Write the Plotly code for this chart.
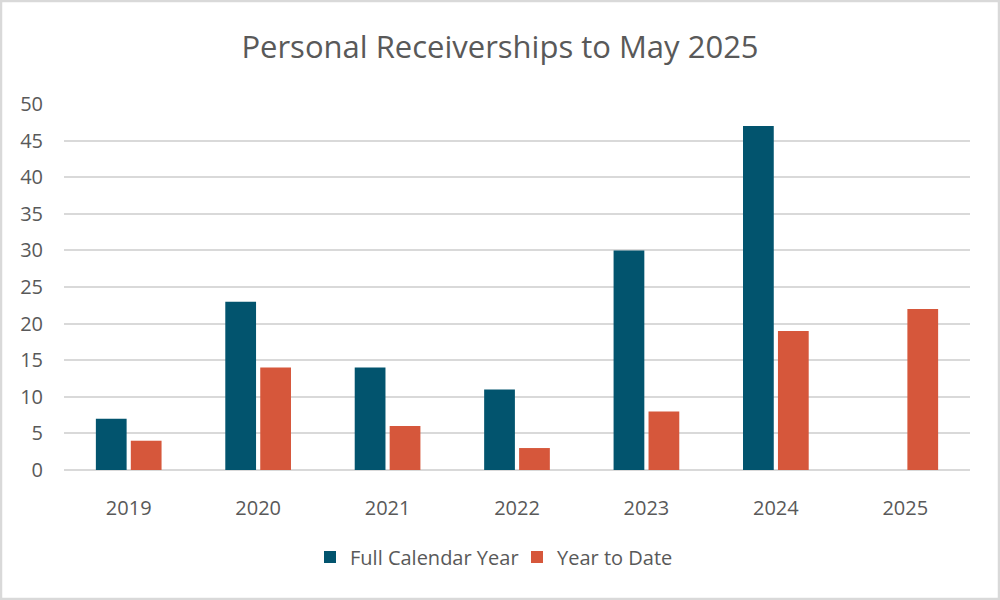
import plotly.graph_objects as go

years = ["2019", "2020", "2021", "2022", "2023", "2024", "2025"]
full_year = [7, 23, 14, 11, 30, 47, None]
year_to_date = [4, 14, 6, 3, 8, 19, 22]

font_family = "Open Sans, Noto Sans, DejaVu Sans, sans-serif"
text_color = "#595959"

fig = go.Figure()
fig.add_trace(go.Bar(x=years, y=full_year, name="Full Calendar Year",
                     marker=dict(color="#02546E", line=dict(width=0))))
fig.add_trace(go.Bar(x=years, y=year_to_date, name="Year to Date",
                     marker=dict(color="#D6573B", line=dict(width=0))))

L, R, T, B = 64, 30, 104, 130
W, H = 1000, 600
pw, ph = W - L - R, H - T - B

fig.update_layout(
    width=W, height=H,
    margin=dict(l=L, r=R, t=T, b=B),
    paper_bgcolor="white", plot_bgcolor="white",
    barmode="group", bargap=0.46, bargroupgap=0.12,
    title=dict(text="Personal Receiverships to May 2025", x=0.5, xanchor="center",
               y=1 - 47 / H, yanchor="middle",
               font=dict(family=font_family, size=31, color=text_color)),
    font=dict(family=font_family, color=text_color, size=20),
    legend=dict(orientation="h", x=0.5, xanchor="center", y=-(557 - 470) / ph,
                yanchor="middle", font=dict(size=20, color=text_color),
                itemwidth=30, traceorder="normal",
                entrywidth=162, entrywidthmode="pixels"),
    xaxis=dict(showgrid=False, showline=False, ticks="", tickfont=dict(size=20),
               ticklabelstandoff=24),
    yaxis=dict(range=[0, 50], dtick=5, showgrid=True, gridcolor="#D9D9D9", gridwidth=1.5,
               zeroline=True, zerolinecolor="#D9D9D9", zerolinewidth=1.5,
               showline=False, ticks="", tickfont=dict(size=20), ticklabelstandoff=20),
    shapes=[dict(type="rect", xref="paper", yref="paper",
                 x0=(1 - L) / pw, x1=(999 - L) / pw,
                 y0=-(599 - (H - B)) / ph, y1=((H - B) - 1) / ph,
                 line=dict(color="#D9D9D9", width=2.5), fillcolor="rgba(0,0,0,0)",
                 layer="below")],
)

fig.write_html("out.html", config={"displayModeBar": False},
               post_script="document.body.style.margin='0';document.body.style.overflow='hidden';")
